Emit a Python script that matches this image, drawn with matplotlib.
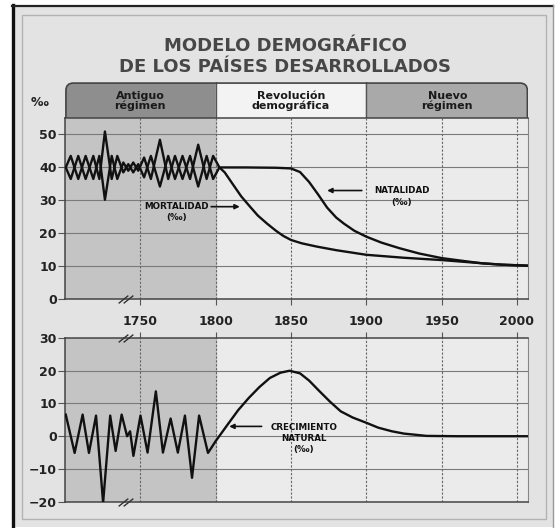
import matplotlib
matplotlib.use("Agg")
import matplotlib.pyplot as plt
from matplotlib.patches import Rectangle, FancyBboxPatch
from matplotlib.lines import Line2D

# ---- data ----
# old regime: birth and death rates swing around 40 per mil
old_years = [1700.5, 1703.8, 1708.8, 1713.7, 1718.8, 1722.8, 1726.5, 1731, 1734.7,
             1738.7, 1742, 1745.3, 1748.6, 1752.5, 1757, 1763, 1768.5, 1773, 1778,
             1783, 1788.4, 1794, 1798.3, 1802.5]
natality_old = [40, 43.5, 36.5, 43.5, 36.5, 43.5, 30.2, 43.5, 36.5,
                41.5, 39, 41.5, 39, 43, 36.5, 48.4, 36.5, 43.5, 36.5,
                43.5, 34.2, 43.5, 36.5, 40]
mortality_old = [40, 36.5, 43.5, 36.5, 43.5, 36.5, 50.9, 36.5, 43.5,
                 38.5, 41, 38.5, 41, 37, 43.5, 34.2, 43.5, 36.5, 43.5,
                 36.5, 46.9, 36.5, 43.5, 40]

# demographic transition
natality_years = [1820, 1840, 1850, 1856, 1862, 1868, 1874, 1880, 1885, 1892, 1900,
                  1910, 1922, 1935, 1950, 1965, 1977, 1990, 2007.5]
natality = [40, 39.9, 39.7, 38.6, 35.6, 31.8, 27.8, 24.8, 23, 20.8, 19,
            17.2, 15.5, 13.9, 12.5, 11.6, 10.9, 10.5, 10.2]
mortality_years = [1806, 1812, 1817, 1823, 1828, 1834, 1840, 1845, 1850, 1857, 1867,
                   1880, 1900, 1925, 1950, 1975, 1990, 2007.5]
mortality = [38.5, 34.5, 31.2, 28, 25.4, 23, 20.8, 19.2, 18, 17, 16,
             14.9, 13.5, 12.6, 11.9, 11, 10.5, 10.2]

# natural growth
growth_years = [1700.5, 1706.4, 1711.7, 1715.9, 1720.6, 1725.3, 1730, 1733.6, 1737.6,
                1741.2, 1743.2, 1745.4, 1750.1, 1754.8, 1760.3, 1765, 1770.1, 1774.9,
                1779.6, 1784.3, 1789, 1794.9, 1800, 1808, 1815, 1822, 1829, 1836,
                1843, 1849, 1856, 1862, 1869, 1876, 1883, 1891, 1900, 1908, 1917,
                1925, 1940, 1960, 1980, 2007.5]
growth = [6.6, -5.1, 6.6, -5.1, 6.3, -20.3, 6.3, -4.5, 6.6,
          0, 1.5, -6, 6.3, -5, 13.7, -5, 5.4, -5,
          6.3, -12.7, 6.3, -5.1, -1.5, 3.6, 8, 11.7, 15, 17.8,
          19.4, 20, 19.2, 17, 13.7, 10.5, 7.6, 5.7, 4.1, 2.6, 1.5,
          0.8, 0.1, 0, 0, 0]

periods = [(1700, 1800, "Antiguo\nrégimen"), (1800, 1900, "Revolución\ndemográfica"),
           (1900, 2007.5, "Nuevo\nrégimen")]
header_colors = ["#8e8e8e", "#f3f3f3", "#a9a9a9"]
year_ticks = [1750, 1800, 1850, 1900, 1950, 2000]

W, H = 558, 528


def fx(px):
    return px / W


def fy(py):
    return 1 - py / H


fig = plt.figure(figsize=(W / 100, H / 100), dpi=100, facecolor="white")

# frame of the scanned page
fig.add_artist(Rectangle((fx(12), fy(527)), fx(553) - fx(12), fy(5) - fy(527),
                         transform=fig.transFigure, facecolor="#e3e3e3",
                         edgecolor="none", zorder=0))
fig.add_artist(Rectangle((fx(22), fy(519)), fx(546) - fx(22), fy(15) - fy(519),
                         transform=fig.transFigure, facecolor="none",
                         edgecolor="#b3b3b3", lw=1, zorder=0))
fig.add_artist(Line2D([fx(13), fx(13)], [fy(5), fy(528)], color="#111", lw=2.4))
fig.add_artist(Line2D([fx(12), fx(553)], [fy(5.5), fy(5.5)], color="#222", lw=1.6))
fig.add_artist(Line2D([fx(553), fx(553)], [fy(5), fy(528)], color="#999", lw=1))

fig.text(fx(285), fy(56.5), "MODELO DEMOGRÁFICO\nDE LOS PAÍSES DESARROLLADOS",
         ha="center", va="center", fontsize=13, fontweight="bold",
         color="#474747", linespacing=1.25)
fig.text(fx(40), fy(103), "‰", ha="center", va="center", fontsize=9,
         fontweight="bold", color="#222")

ax_w = (528.3 - 65) / W
ax_head = fig.add_axes([fx(65), fy(118), ax_w, (118 - 82) / H])
ax_top = fig.add_axes([fx(65), fy(299.3), ax_w, (299.3 - 118) / H])
ax_bot = fig.add_axes([fx(65), fy(501.7), ax_w, (501.7 - 338) / H])

# ---- header band ----
ax_head.set_xlim(1700, 2007.5)
ax_head.set_ylim(0, 1)
ax_head.axis("off")
aspect = (528.3 - 65) / (118 - 82)
box = FancyBboxPatch((0.002, -0.6), 0.996, 1.57,
                     boxstyle="round,pad=0,rounding_size=0.016",
                     mutation_aspect=aspect, transform=ax_head.transAxes,
                     facecolor="none", edgecolor="#444", lw=1.2, zorder=3)
ax_head.add_patch(box)
for (x0, x1, label), c in zip(periods, header_colors):
    span = ax_head.axvspan(x0, x1, color=c, zorder=1)
    span.set_clip_path(box)
    ax_head.text((x0 + x1) / 2, 0.48, label, ha="center", va="center",
                 fontsize=8, fontweight="bold", color="#1a1a1a", linespacing=0.95)
for x in [1800, 1900]:
    ax_head.axvline(x, color="#555", lw=1, zorder=2)


def style_axes(ax, ylim, hlines):
    ax.set_xlim(1700, 2007.5)
    ax.set_ylim(*ylim)
    ax.set_facecolor("#ebebeb")
    ax.axvspan(1700, 1800, color="#c4c4c4", zorder=0)
    for v in hlines:
        ax.axhline(v, color="#7a7a7a", lw=0.8, zorder=1)
    for yr in year_ticks:
        ax.axvline(yr, color="#666", lw=0.8, ls=(0, (2, 1.5)), zorder=1)
    for side in ["left", "top", "bottom"]:
        ax.spines[side].set_color("#444")
        ax.spines[side].set_linewidth(1.1)
    ax.spines["right"].set_color("#888")
    ax.tick_params(axis="y", direction="out", length=5, width=0.8,
                   color="#555", pad=1, labelsize=9, labelcolor="#222")


def break_marks(ax, y):
    ax.plot([1738.8, 1741.8], [y, y], transform=ax.get_xaxis_transform(),
            marker=[(-1, -0.8), (1, 0.8)], markersize=7, ls="none",
            color="#333", mew=1, clip_on=False, zorder=6)


# ---- top: birth and death rates ----
style_axes(ax_top, (0, 55), [10, 20, 30, 40, 50])
ax_top.set_yticks([0, 10, 20, 30, 40, 50])
ax_top.set_xticks(year_ticks)
ax_top.set_xticklabels([str(y) for y in year_ticks])
ax_top.tick_params(axis="x", direction="out", length=4.5, width=0.8,
                   color="#555", pad=7, labelsize=9, labelcolor="#222")
plt.setp(ax_top.get_yticklabels(), fontweight="bold")
plt.setp(ax_top.get_xticklabels(), fontweight="bold")

ax_top.plot(old_years + natality_years, natality_old + natality,
            color="#111", lw=1.7, zorder=4)
ax_top.plot(old_years + mortality_years, mortality_old + mortality,
            color="#111", lw=1.7, zorder=4)
break_marks(ax_top, 0)

arrow = dict(arrowstyle="-|>", color="#111", lw=1.2, mutation_scale=7,
             shrinkA=0, shrinkB=0)
ax_top.text(1774, 26.4, "MORTALIDAD\n(‰)", ha="center", va="center",
            fontsize=6.3, fontweight="bold", color="#111", linespacing=1.3, zorder=5)
ax_top.annotate("", xy=(1816, 28.1), xytext=(1797, 28.1), arrowprops=arrow, zorder=5)
ax_top.text(1923.5, 31.2, "NATALIDAD\n(‰)", ha="center", va="center",
            fontsize=6.3, fontweight="bold", color="#111", linespacing=1.3, zorder=5)
ax_top.annotate("", xy=(1874, 33), xytext=(1897, 33), arrowprops=arrow, zorder=5)

# ---- bottom: natural growth ----
style_axes(ax_bot, (-20, 30), [-10, 0, 10, 20])
ax_bot.set_yticks([-20, -10, 0, 10, 20, 30])
ax_bot.set_xticks(year_ticks)
ax_bot.tick_params(axis="x", top=True, bottom=False, labeltop=False,
                   labelbottom=False, direction="out", length=4.5, width=0.8,
                   color="#555")
plt.setp(ax_bot.get_yticklabels(), fontweight="bold")
ax_bot.plot(growth_years, growth, color="#111", lw=1.7, zorder=4)
break_marks(ax_bot, 0)
break_marks(ax_bot, 1)

ax_bot.text(1858.5, -0.6, "CRECIMIENTO\nNATURAL\n(‰)", ha="center", va="center",
            fontsize=6.3, fontweight="bold", color="#111", linespacing=1.3, zorder=5)
ax_bot.annotate("", xy=(1809, 3), xytext=(1830.5, 3), arrowprops=arrow, zorder=5)

fig.savefig("out.png", dpi=100, facecolor=fig.get_facecolor())
